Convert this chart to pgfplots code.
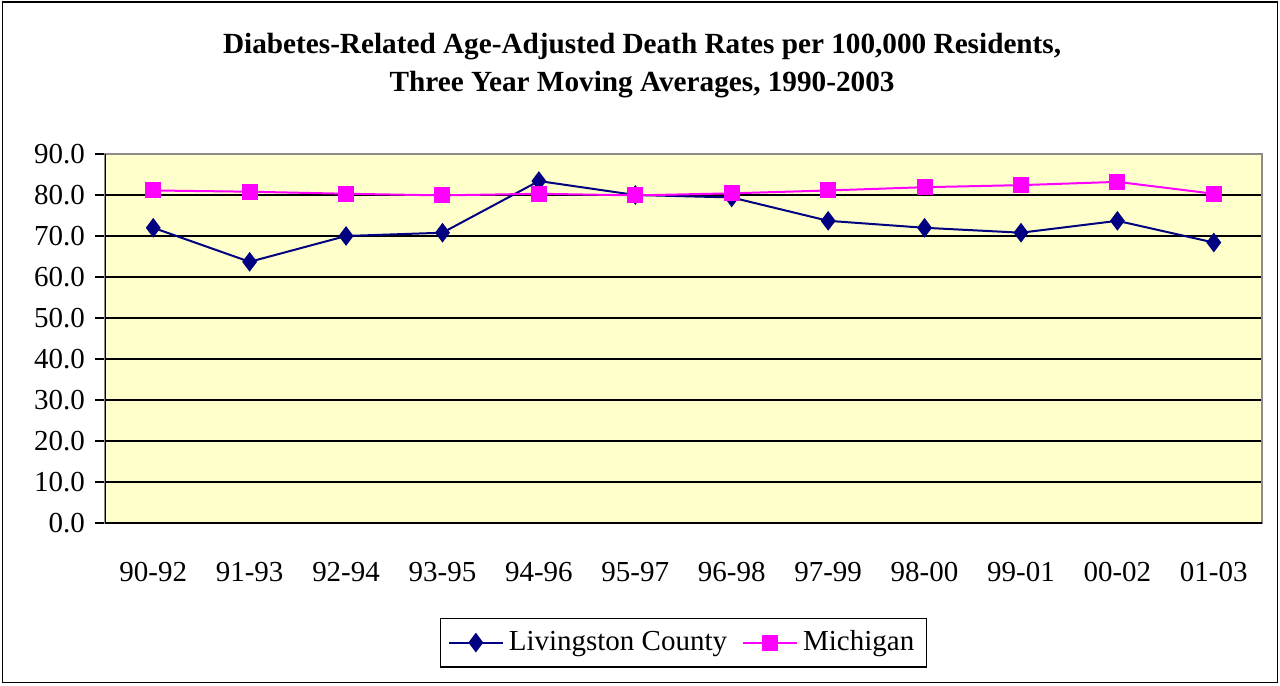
\documentclass[border=0pt]{standalone}
\usepackage{pgfplots}
\pgfplotsset{compat=1.18}
\usepackage{fontspec}
\setmainfont{Liberation Serif}
\definecolor{livnavy}{RGB}{0,0,128}
\definecolor{michmag}{RGB}{255,0,255}
\definecolor{plotbg}{RGB}{255,255,204}
\begin{document}
\begin{tikzpicture}[x=1cm,y=1cm]
\draw[black, line width=0.5pt] (0.03,0.03) rectangle (17.97,9.603);
\useasboundingbox (0,0) rectangle (18,9.633);
\node[font=\fontsize{11.7}{15.3}\selectfont\bfseries, align=center] at (9.03,8.71)
  {Diabetes-Related Age-Adjusted Death Rates per 100,000 Residents,\\Three Year Moving Averages, 1990-2003};
\begin{axis}[
    at={(1.477cm,2.278cm)}, anchor=south west,
    scale only axis,
    width=16.27cm, height=5.19cm,
    xmin=-0.5, xmax=11.5,
    ymin=0, ymax=90,
    xtick={0,...,11},
    xticklabels={90-92,91-93,92-94,93-95,94-96,95-97,96-98,97-99,98-00,99-01,00-02,01-03},
    major x tick style={draw=none},
    extra x ticks={-0.5,0.5,...,11.5},
    extra x tick labels={},
    extra x tick style={tick style={black, line width=0.6pt}, major tick length=4pt, tick align=outside},
    ytick={0,10,...,90},
    ymajorgrids=true,
    grid style={black, line width=0.5pt},
    y tick style={black, line width=0.6pt},
    tick align=outside,
    major tick length=4pt,
    xtick pos=bottom, ytick pos=left,
    axis background/.style={fill=plotbg},
    axis line style={draw=gray!90, line width=0.8pt},
    ticklabel style={font=\fontsize{11.6}{13}\selectfont},
    xticklabel style={yshift=-8.2pt},
    yticklabel style={anchor=east, xshift=-0.5pt},
    /pgf/number format/assume math mode=true,
    yticklabel={\pgfmathprintnumber[fixed,fixed zerofill,precision=1]{\tick}},
    legend columns=2,
    legend style={at={(0.5,-0.324)}, anchor=center, draw=black, line width=0.5pt,
      font=\fontsize{11.6}{13}\selectfont, inner sep=3pt,
      /tikz/every even column/.append style={column sep=4pt}},
    legend image code/.code={\draw[mark repeat=2,mark phase=2,#1] plot coordinates {(0cm,0cm) (0.38cm,0cm) (0.76cm,0cm)};},
    legend image post style={line width=0.8pt},
]
\addplot[color=livnavy, line width=0.8pt, mark=diamond*, mark size=3.3pt, mark options={fill=livnavy, draw=livnavy}]
coordinates {(0,72.0)(1,63.7)(2,70.0)(3,70.8)(4,83.4)(5,80.0)(6,79.4)(7,73.7)(8,72.0)(9,70.8)(10,73.7)(11,68.4)};
\addlegendentry{Livingston County}
\addplot[color=michmag, line width=0.8pt, mark=square*, mark size=2.8pt, mark options={fill=michmag, draw=michmag}]
coordinates {(0,81.1)(1,80.8)(2,80.3)(3,79.9)(4,80.3)(5,79.9)(6,80.4)(7,81.1)(8,81.9)(9,82.4)(10,83.2)(11,80.3)};
\addlegendentry{Michigan}
\draw[black, line width=0.8pt] (rel axis cs:0,1) -- (rel axis cs:0,0) -- (rel axis cs:1,0);
\end{axis}
\end{tikzpicture}
\end{document}
